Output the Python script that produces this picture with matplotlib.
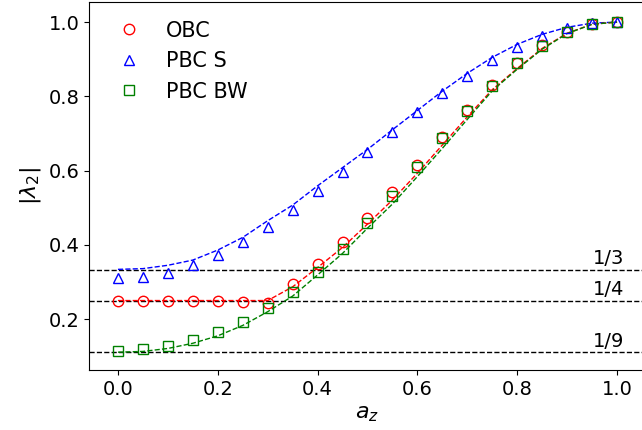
import matplotlib
matplotlib.use("Agg")
import matplotlib.pyplot as plt

az = [0.00, 0.05, 0.10, 0.15, 0.20, 0.25, 0.30, 0.35, 0.40, 0.45, 0.50,
      0.55, 0.60, 0.65, 0.70, 0.75, 0.80, 0.85, 0.90, 0.95, 1.00]

obc = [0.250, 0.250, 0.250, 0.250, 0.250, 0.245, 0.243, 0.295, 0.348, 0.407, 0.473,
       0.541, 0.615, 0.690, 0.763, 0.830, 0.890, 0.937, 0.974, 0.996, 1.000]
pbc_s = [0.310, 0.314, 0.325, 0.346, 0.373, 0.408, 0.447, 0.494, 0.545, 0.597, 0.651,
         0.705, 0.757, 0.808, 0.855, 0.898, 0.932, 0.962, 0.983, 0.998, 1.000]
pbc_bw = [0.115, 0.119, 0.128, 0.143, 0.164, 0.192, 0.229, 0.272, 0.326, 0.388, 0.458,
          0.532, 0.611, 0.687, 0.760, 0.829, 0.889, 0.935, 0.972, 0.995, 1.000]

curve_s = [0.334, 0.336, 0.345, 0.359, 0.386, 0.420, 0.465, 0.507, 0.559, 0.608, 0.657,
           0.710, 0.762, 0.814, 0.862, 0.905, 0.940, 0.967, 0.986, 0.997, 1.000]
curve_obc = [0.250, 0.250, 0.250, 0.250, 0.250, 0.250, 0.250, 0.287, 0.339, 0.393, 0.456,
             0.521, 0.593, 0.669, 0.745, 0.818, 0.875, 0.929, 0.970, 0.994, 1.000]
curve_bw = [0.111, 0.113, 0.121, 0.135, 0.155, 0.183, 0.220, 0.262, 0.319, 0.377, 0.445,
            0.510, 0.584, 0.660, 0.738, 0.815, 0.873, 0.927, 0.969, 0.994, 1.000]

ref_levels = [1/3, 1/4, 1/9]
ref_labels = ["1/3", "1/4", "1/9"]

fig = plt.figure(figsize=(6.42, 4.30), dpi=100)
ax = fig.add_axes([89/642, 60/430, (646-89)/642, (428-60)/430])

for lvl in ref_levels:
    ax.axhline(lvl, color="black", ls="--", lw=1)
for lvl, lab in zip(ref_levels, ref_labels):
    ax.text(0.952, lvl + 0.003, lab, fontsize=14, va="bottom", ha="left")

ax.plot(az, curve_s, "b--", lw=1)
ax.plot(az, curve_obc, "r--", lw=1)
ax.plot(az, curve_bw, "g--", lw=1)

ax.plot(az, obc, "o", color="red", mfc="none", ms=7.5, mew=1, label="OBC")
ax.plot(az, pbc_s, "^", color="blue", mfc="none", ms=7.5, mew=1, label="PBC S")
ax.plot(az, pbc_bw, "s", color="green", mfc="none", ms=7.5, mew=1, label="PBC BW")

ax.set_xlim(-0.058, 1.058)
ax.set_ylim(0.063, 1.054)
ax.set_xticks([0.0, 0.2, 0.4, 0.6, 0.8, 1.0])
ax.set_yticks([0.2, 0.4, 0.6, 0.8, 1.0])
ax.tick_params(labelsize=14)
ax.set_xlabel(r"$a_z$", fontsize=16)
ax.set_ylabel(r"$|\lambda_2|$", fontsize=16)
ax.legend(loc="upper left", frameon=False, fontsize=15)

fig.savefig("out.png", dpi=100)
